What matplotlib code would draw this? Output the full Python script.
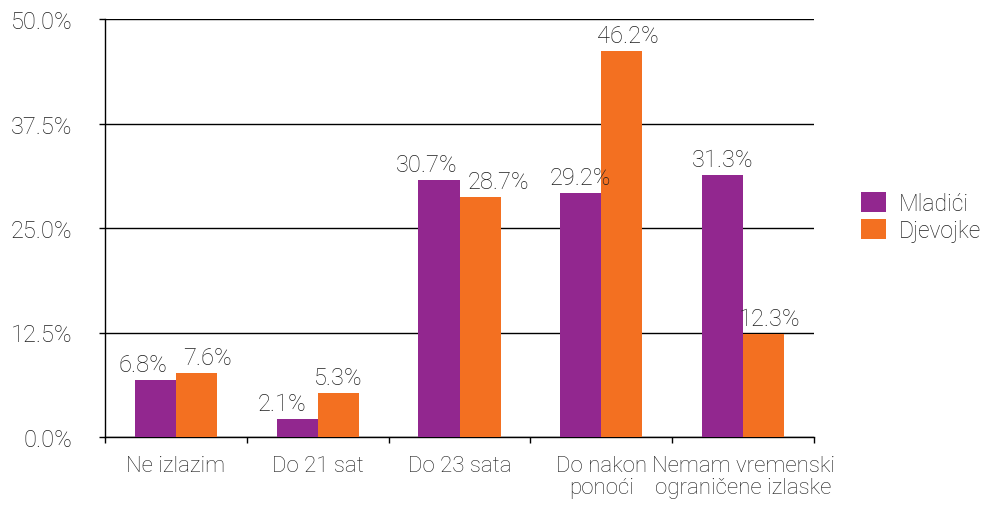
import matplotlib
matplotlib.use("Agg")
import matplotlib.pyplot as plt
import numpy as np

categories = ["Ne izlazim", "Do 21 sat", "Do 23 sata", "Do nakon\nponoći", "Nemam vremenski\nograničene izlaske"]
series_names = ["Mladići", "Djevojke"]
mladici = [6.8, 2.1, 30.7, 29.2, 31.3]
djevojke = [7.6, 5.3, 28.7, 46.2, 12.3]
yticks = [0.0, 12.5, 25.0, 37.5, 50.0]
colors = ["#92278F", "#F37021"]

# horizontal nudges (in points) for value labels, to keep them apart as in the original
nudge_m = [-9, -11, -9, 0, 0]
nudge_d = [8, 0, 13, 4, 4]

plt.rcParams['font.family'] = ['Roboto', 'DejaVu Sans']
plt.rcParams['font.weight'] = 'light'
txtcol = "#1e1e1e"
fs_num = 17
fs_cat = 16

fig = plt.figure(figsize=(9.86, 5.10), dpi=100)
ax = fig.add_axes([105/986, 72/510, (814-105)/986, (438-20)/510])

x = np.arange(len(categories))
w = 0.29
b1 = ax.bar(x - w/2, mladici, w, color=colors[0], label=series_names[0], zorder=3)
b2 = ax.bar(x + w/2, djevojke, w, color=colors[1], label=series_names[1], zorder=3)

for bars, vals, nud in ((b1, mladici, nudge_m), (b2, djevojke, nudge_d)):
    for r, v, n in zip(bars, vals, nud):
        ax.annotate(f"{v:.1f}%", (r.get_x() + r.get_width()/2, v), xytext=(n, 3),
                    textcoords="offset points", ha="center", va="bottom",
                    fontsize=fs_num, color=txtcol, zorder=4)

ax.set_xlim(-0.5, len(categories) - 0.5)
ax.set_ylim(0, 50)
ax.set_yticks(yticks)
ax.set_yticklabels([f"{t:.1f}%" for t in yticks], fontsize=fs_num, color=txtcol)
ax.yaxis.grid(True, color="black", linewidth=1.0, zorder=0)
ax.tick_params(axis="y", length=4.5, width=1, color="black", pad=19)

ax.set_xticks(x)
ax.set_xticklabels(categories, fontsize=fs_cat, color=txtcol, linespacing=1.05)
ax.set_xticks(np.arange(len(categories) + 1) - 0.5, minor=True)
ax.tick_params(axis="x", which="major", length=0, pad=13)
ax.tick_params(axis="x", which="minor", length=4.5, width=1, color="black", direction="out")

for s in ("top", "right"):
    ax.spines[s].set_visible(False)
ax.spines["left"].set_color("black")
ax.spines["bottom"].set_color("black")
ax.spines["left"].set_linewidth(1)
ax.spines["bottom"].set_linewidth(1)
ax.set_axisbelow(True)

fig.legend(handles=[b1, b2], labels=series_names, loc="center left",
           bbox_to_anchor=(861/986, 1 - 218/510), frameon=False, fontsize=16.5,
           borderpad=0, borderaxespad=0,
           handlelength=1.09, handleheight=0.96, handletextpad=0.55, labelspacing=0.2,
           labelcolor=txtcol)

fig.savefig("out.png", dpi=100)
